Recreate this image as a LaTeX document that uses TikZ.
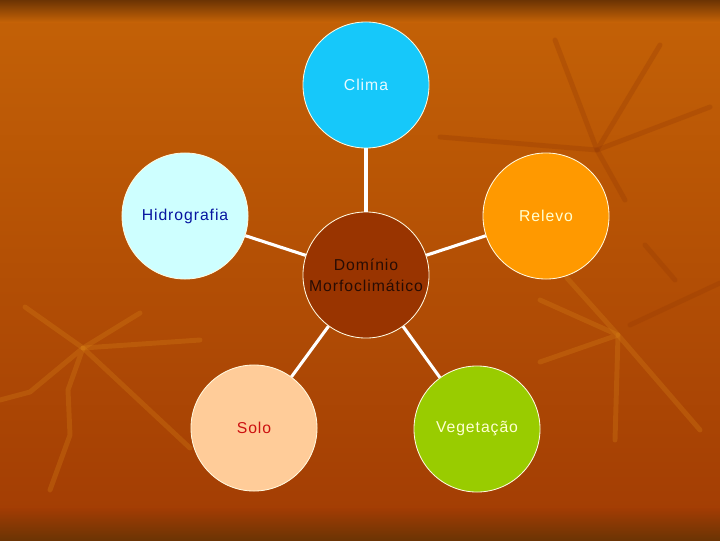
\documentclass[tikz,border=0pt]{standalone}
\usepackage{fontspec}
\setmainfont{Liberation Sans}[LetterSpace=6]
\usepackage{tikz}
\usetikzlibrary{positioning}
\definecolor{BgDark}{RGB}{108,52,4}
\definecolor{BgOrange}{RGB}{196,98,6}
\definecolor{BgRed}{RGB}{162,60,4}
\definecolor{VeinLight}{RGB}{214,128,22}
\definecolor{VeinDark}{RGB}{150,58,4}
\definecolor{CircleEdge}{RGB}{255,250,225}
\definecolor{DomFill}{RGB}{153,52,0}
\definecolor{DomText}{RGB}{40,12,4}
\definecolor{ClimaFill}{RGB}{22,200,250}
\definecolor{ClimaText}{RGB}{232,250,255}
\definecolor{HidroFill}{RGB}{206,255,255}
\definecolor{HidroText}{RGB}{6,20,160}
\definecolor{RelevoFill}{RGB}{255,153,0}
\definecolor{SoloFill}{RGB}{255,204,153}
\definecolor{SoloText}{RGB}{204,16,16}
\definecolor{VegFill}{RGB}{153,204,0}
\definecolor{Cream}{RGB}{255,255,210}

\begin{document}
\begin{tikzpicture}[x=0.025cm, y=-0.025cm,
  topic/.style={circle, draw=CircleEdge, line width=0.6pt, minimum size=3.15cm,
    inner sep=0pt, align=center, font=\fontsize{11.2}{15}\selectfont},
  link/.style={draw=white, line width=2.2pt},
  vein/.style={line width=3.5pt, line cap=round, line join=round, opacity=0.3}]
\useasboundingbox (0,0) rectangle (720,540);

% Background
\shade[top color=BgOrange, bottom color=BgRed] (0,0) rectangle (720,540);
\shade[top color=BgDark, bottom color=BgOrange] (0,0) rectangle (720,22);
\shade[top color=BgRed, bottom color=BgDark] (0,508) rectangle (720,540);

% Leaf veins
\draw[vein, VeinLight] (25,307) -- (83,348) -- (140,313);
\draw[vein, VeinLight] (83,348) -- (200,340);
\draw[vein, VeinLight] (0,400) -- (30,392) -- (83,348) -- (68,390) -- (70,435) -- (50,490);
\draw[vein, VeinLight] (83,348) -- (190,448);
\draw[vein, VeinDark] (555,40) -- (597,150) -- (660,45);
\draw[vein, VeinDark] (440,137) -- (597,150) -- (710,107);
\draw[vein, VeinDark] (597,150) -- (625,200);
\draw[vein, VeinLight] (567,278) -- (618,335) -- (615,440);
\draw[vein, VeinLight] (540,300) -- (618,335) -- (540,362);
\draw[vein, VeinDark] (630,325) -- (720,283);
\draw[vein, VeinDark] (645,245) -- (675,280);
\draw[vein, VeinLight] (618,335) -- (700,430);

% Circles
\node[topic, fill=DomFill, text=DomText] (dom) at (366,275) {Domínio\\Morfoclimático};
\node[topic, fill=ClimaFill, text=ClimaText] (clima) at (366,85) {Clima};
\node[topic, fill=HidroFill, text=HidroText] (hidro) at (185,216) {Hidrografia};
\node[topic, fill=RelevoFill, text=Cream] (relevo) at (546,216) {Relevo};
\node[topic, fill=SoloFill, text=SoloText] (solo) at (254,428) {Solo};
\node[topic, fill=VegFill, text=Cream] (veg) at (477,429) {Vegetação};

% Links
\foreach \n in {clima, hidro, relevo, solo, veg}
  \draw[link] (dom) -- (\n);

\end{tikzpicture}
\end{document}
